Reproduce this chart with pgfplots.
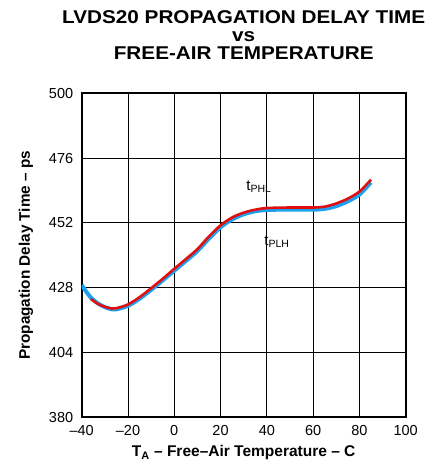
\documentclass[border=0pt]{standalone}
\usepackage{graphicx}
\usepackage{pgfplots}
\pgfplotsset{compat=1.18}
\usepackage{fontspec}
\setmainfont{Liberation Sans}
\definecolor{tblue}{RGB}{30,160,240}
\definecolor{tred}{RGB}{225,15,15}
\newcommand{\wide}[1]{\scalebox{1.12}[1]{#1}}
\begin{document}
\begin{tikzpicture}
\path[use as bounding box] (0,0) rectangle (442pt,468pt);
\begin{axis}[
  at={(81.7pt,50.7pt)}, anchor=south west,
  width=324pt, height=324pt, scale only axis,
  xmin=-40, xmax=100, ymin=380, ymax=500,
  xtick={-40,-20,0,20,40,60,80,100},
  xticklabels={–40,–20,0,20,40,60,80,100},
  ytick={380,404,428,452,476,500},
  yticklabels={380,404,428,452,476,500},
  grid=major,
  major grid style={black, line width=0.9pt},
  axis line style={black, line width=1.8pt},
  major tick length=0pt,
  ticklabel style={font=\fontsize{14.5}{16}\selectfont},
  xticklabel style={yshift=-4.5pt},
  yticklabel style={xshift=-5pt},
  every axis title/.style={at={(axis description cs:0.5,1)}, anchor=south, yshift=30pt,
     font=\bfseries\fontsize{18.5}{18.2}\selectfont, align=center},
  title={\wide{LVDS20 PROPAGATION DELAY TIME}\\\wide{vs}\\\wide{FREE-AIR TEMPERATURE}},
  xlabel={T\textsubscript{A} – Free–Air Temperature – C},
  ylabel={Propagation Delay Time – ps},
  xlabel style={at={(axis description cs:0.5,-0.1225)}, anchor=base,
     font=\bfseries\fontsize{15.5}{16}\selectfont},
  ylabel style={at={(axis description cs:-0.172,0.5)}, anchor=center, rotate=0,
     font=\bfseries\fontsize{15.3}{16}\selectfont},
]
% tPLH (blue, thick)
\addplot[tblue, line width=4pt, smooth] coordinates {
(-40,429) (-38,426.5) (-36,424.3) (-33,422.2) (-30,420.8) (-27,420.0) (-25,420.0)
(-20,421.3) (-15,423.9) (-10,427.2) (-5,430.7) (0,434.3) (5,437.9) (10,441.6)
(15,446.2) (20,450.4) (25,453.3) (30,455.2) (35,456.3) (40,456.8) (50,456.9)
(60,456.9) (65,457.2) (70,458.2) (75,460.0) (80,462.5) (85,467.0)
};
% tPHL (red)
\addplot[tred, line width=2.6pt, smooth] coordinates {
(-36,423.8) (-33,422.0) (-30,420.9) (-27,420.3) (-25,420.4) (-20,421.8)
(-15,424.5) (-10,427.8) (-5,431.3) (0,435.0) (5,438.6) (10,442.3) (15,447.0)
(20,451.1) (25,454.0) (30,455.8) (35,456.9) (40,457.5) (50,457.7) (60,457.7)
(65,458.0) (70,459.2) (75,461.0) (80,463.6) (85,468.0)
};
\node[font=\fontsize{15}{16}\selectfont] at (axis cs:36.6,465.3) {t\textsubscript{PHL}};
\node[font=\fontsize{15}{16}\selectfont] at (axis cs:44.4,445) {t\textsubscript{PLH}};
\end{axis}
\end{tikzpicture}
\end{document}
